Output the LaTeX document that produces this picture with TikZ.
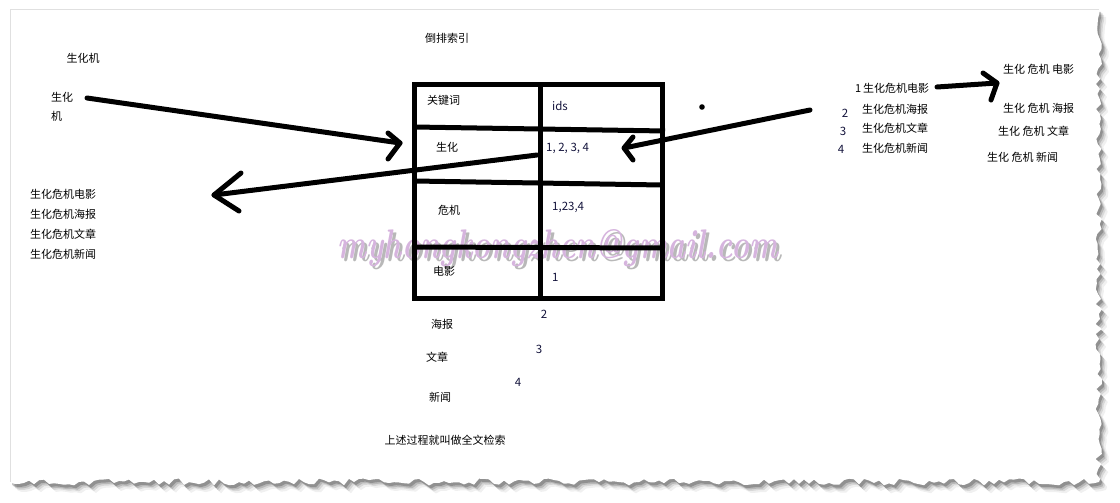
\documentclass[tikz,border=0pt]{standalone}
\usepackage{fontspec}
\setmainfont{Noto Sans CJK SC}
\newfontfamily\wmfont{Latin Modern Roman}
\usetikzlibrary{calc}
\definecolor{wmcol}{RGB}{214,180,222}
\definecolor{numcol}{RGB}{20,20,60}
\newcommand\mytorn[1]{%
  \pgfmathsetseed{11}%
  \fill[#1] (10,9) -- (1099,9)
    \foreach \yy in {14,19,...,479} {-- ({1099+3.5*rand},\yy)}
    -- (1099,482)
    \foreach \xx in {1094,1089,...,14} {-- (\xx,{482+3.5*rand})}
    -- (10,482) -- cycle;}
\begin{document}
\begin{tikzpicture}[x=1pt,y=-1pt,
  lbl/.style={inner sep=0pt,font=\fontsize{11}{13}\selectfont},
  num/.style={inner sep=0pt,font=\fontsize{11.5}{13}\selectfont,text=numcol},
  arr/.style={line width=5pt,line cap=round,line join=round},
  tbl/.style={line width=5pt}]
\useasboundingbox (0,0) rectangle (1120,503);
% page with torn edges
\foreach \s/\o in {7/0.06,5/0.10,3.5/0.15,2/0.22}{\mytorn{black,opacity=\o,shift={(\s,\s+1)}}}
\mytorn{white}
\draw[black!12] (10,482) -- (10,9) -- (1099,9);

% watermark
\node[inner sep=0pt,text=black!55,opacity=0.5] at (561,251) {\resizebox{440pt}{29pt}{\wmfont\bfseries\itshape myhongkongzhen@gmail.com}};
\node[inner sep=0pt,text=wmcol] (wm) at (558,248) {\resizebox{440pt}{29pt}{\wmfont\bfseries\itshape myhongkongzhen@gmail.com}};

% table
\draw[tbl] (414,85) rectangle (662,298);
\draw[tbl] (540,85) -- (540,298);
\draw[tbl] (414,127) -- (665,131);
\draw[tbl] (414,181) -- (662,185);
\draw[tbl] (414,247) -- (662,248);

% labels
\node[lbl] (t0) at (83,58) {生化机};
\node[lbl,anchor=west] (t1) at (51,97) {生化};
\node[lbl,anchor=west] (t2) at (51,116) {机};
\node[lbl,anchor=west] (l1) at (30,194) {生化危机电影};
\node[lbl,anchor=west] (l2) at (30,214) {生化危机海报};
\node[lbl,anchor=west] (l3) at (30,234) {生化危机文章};
\node[lbl,anchor=west] (l4) at (30,254) {生化危机新闻};
\node[lbl] (title) at (447,38) {倒排索引};
\node[lbl,anchor=west] (k0) at (427,100) {关键词};
\node[num,anchor=west] (i0) at (552,106) {ids};
\node[lbl] (k1) at (447,147) {生化};
\node[num,anchor=west] (i1) at (546,148) {1, 2, 3, 4};
\node[lbl] (k2) at (449,210) {危机};
\node[num,anchor=west] (i2) at (552,207) {1,23,4};
\node[lbl] (k3) at (444,271) {电影};
\node[num,anchor=west] (i3) at (552,277) {1};
\node[num] (n2) at (544,314) {2};
\node[lbl] (k4) at (442,324) {海报};
\node[num] (n3) at (539,349) {3};
\node[lbl] (k5) at (437,357) {文章};
\node[num] (n4) at (518,382) {4};
\node[lbl] (k6) at (440,397) {新闻};
\node[lbl] (sum) at (445,440) {上述过程就叫做全文检索};
% right side
\node[lbl,anchor=west] (r1) at (855,88) {1\,生化危机电影};
\node[num] (rn2) at (845,113) {2};
\node[lbl,anchor=west] (r2) at (862,109) {生化危机海报};
\node[num] (rn3) at (843,131) {3};
\node[lbl,anchor=west] (r3) at (862,128) {生化危机文章};
\node[num] (rn4) at (841,149) {4};
\node[lbl,anchor=west] (r4) at (862,148) {生化危机新闻};
\node[lbl,anchor=west] (s1) at (1003,69) {生化 危机 电影};
\node[lbl,anchor=west] (s2) at (1003,108) {生化 危机 海报};
\node[lbl,anchor=west] (s3) at (998,131) {生化 危机 文章};
\node[lbl,anchor=west] (s4) at (987,157) {生化 危机 新闻};

% arrows
\coordinate (a1s) at (87,98);   \coordinate (a1t) at (400,143);
\draw[arr] (a1s) -- (a1t);
\draw[arr] (a1t) ++(-12,-10) -- (a1t) -- ++(-12,16);
\coordinate (a2s) at (537,155); \coordinate (a2t) at (214,195);
\draw[arr] (a2s) -- (a2t);
\draw[arr] (a2t) ++(27,-22) -- (a2t) -- ++(25,16);
\coordinate (a3s) at (810,110); \coordinate (a3t) at (624,148);
\draw[arr] (a3s) -- (a3t);
\draw[arr] (a3t) ++(9,-11) -- (a3t) -- ++(9,12);
\coordinate (a4s) at (937,87);  \coordinate (a4t) at (997,83);
\draw[arr] (a4s) -- (a4t);
\draw[arr] (a4t) ++(-14,-10) -- (a4t) -- ++(-6,17);
\fill (702,107) circle (2.8);
\end{tikzpicture}
\end{document}
